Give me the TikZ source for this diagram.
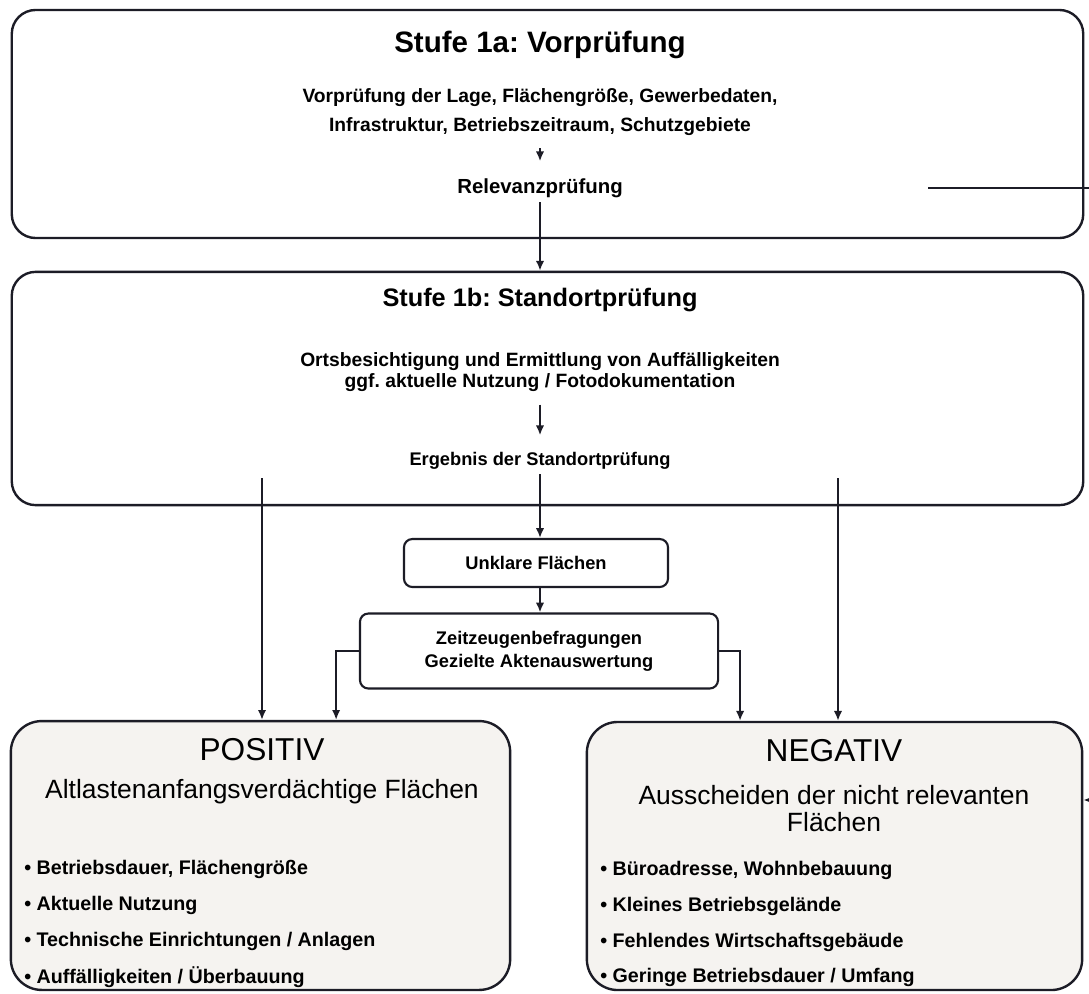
\documentclass[tikz,border=0pt]{standalone}
\usepackage{fontspec}
\setmainfont{Liberation Sans}
\usetikzlibrary{arrows.meta}
\frenchspacing
\definecolor{ink}{HTML}{1C1C26}
\definecolor{paper}{HTML}{F5F3F0}
\tikzset{
  stagebox/.style={draw=ink, line width=1.7pt, rounded corners=17pt, inner sep=0pt},
  smallbox/.style={draw=ink, line width=1.5pt, rounded corners=6pt, align=center, inner sep=0pt, font=\fontsize{13}{16.4}\selectfont\bfseries},
  resultbox/.style={draw=ink, fill=paper, line width=1.7pt, rounded corners=22pt, inner sep=0pt},
  stagetitle/.style={font=\fontsize{#1}{#1}\selectfont\bfseries, inner sep=2pt},
  bodytext/.style={font=\fontsize{13.7}{#1}\selectfont\bfseries, align=center, inner sep=3pt},
  headline/.style={font=\fontsize{22.5}{26}\selectfont, inner sep=2pt},
  subline/.style={font=\fontsize{18.8}{19.5}\selectfont, align=center, inner sep=2pt},
  item/.style={font=\fontsize{14}{16}\selectfont\bfseries, anchor=west, inner sep=0pt},
  arr/.style={draw=ink, line width=1.5pt, -{Latex[length=7pt,width=6pt]}}
}
\begin{document}
\begin{tikzpicture}[x=0.025cm,y=-0.025cm]
\useasboundingbox[fill=white] (0,0) rectangle (1089,993);
\node[stagebox, minimum width=26.78cm, minimum height=5.7cm] (stufeA) at (547.5,124) {};
\node[stagetitle=21] (titleA) at (540,45) {Stufe 1a: Vorprüfung};
\node[bodytext=20] (vorpr) at (540,112) {Vorprüfung der Lage, Flächengröße, Gewerbedaten,\\Infrastruktur, Betriebszeitraum, Schutzgebiete};
\node[bodytext=15, font=\fontsize{14.5}{15}\selectfont\bfseries] (relev) at (540,188) {Relevanzprüfung};
\coordinate (relout) at (928,188);
\node[stagebox, minimum width=26.78cm, minimum height=5.83cm] (stufeB) at (547.5,388.5) {};
\node[stagetitle=18] (titleB) at (540,300) {Stufe 1b: Standortprüfung};
\node[bodytext=15] (orts) at (540,372) {Ortsbesichtigung und Ermittlung von Auffälligkeiten\\ggf. aktuelle Nutzung / Fotodokumentation};
\node[bodytext=15, font=\fontsize{13}{15}\selectfont\bfseries] (ergeb) at (540,461) {Ergebnis der Standortprüfung};
\coordinate (posout) at (262,478);
\coordinate (negout) at (838,478);
\node[smallbox, minimum width=6.6cm, minimum height=1.2cm] (unklar) at (536,563) {Unklare Flächen};
\node[smallbox, minimum width=8.95cm, minimum height=1.875cm] (zeit) at (539,651) {Zeitzeugenbefragungen\\Gezielte Aktenauswertung};
\node[resultbox, minimum width=12.48cm, minimum height=6.72cm] (positiv) at (260.5,855.5) {};
\node[headline] (posHead) at (262,750) {POSITIV};
\node[subline] (posSub) at (262,792) {Altlastenanfangsverdächtige Flächen};
\node[item] (posA) at (24,869) {\textbullet\ Betriebsdauer, Flächengröße};
\node[item] (posB) at (24,905) {\textbullet\ Aktuelle Nutzung};
\node[item] (posC) at (24,941) {\textbullet\ Technische Einrichtungen / Anlagen};
\node[item] (posD) at (24,977) {\textbullet\ Auffälligkeiten / Überbauung};
\node[resultbox, minimum width=12.38cm, minimum height=6.7cm] (negativ) at (834.5,856) {};
\node[headline] (negHead) at (834,751) {NEGATIV};
\node[subline] (negSub) at (834,808.5) {Ausscheiden der nicht relevanten\\Flächen};
\node[item] (negA) at (600,870) {\textbullet\ Büroadresse, Wohnbebauung};
\node[item] (negB) at (600,906) {\textbullet\ Kleines Betriebsgelände};
\node[item] (negC) at (600,942) {\textbullet\ Fehlendes Wirtschaftsgebäude};
\node[item] (negD) at (600,977) {\textbullet\ Geringe Betriebsdauer / Umfang};
\draw[arr, shorten <=6pt, shorten >=9pt] (vorpr) -- (relev);
\draw[arr] (relev.south) -- (relev.south |- stufeB.north);
\draw[arr, shorten <=6pt, shorten >=9pt] (orts) -- (ergeb);
\draw[arr] (ergeb.south) -- (ergeb.south |- unklar.north);
\draw[arr] (unklar.south -| ergeb.south) -- (ergeb.south |- zeit.north);
\draw[arr] (posout) -- (posout |- positiv.north);
\draw[arr] (negout) -- (negout |- negativ.north);
\draw[arr] (zeit.west) -| ([xshift=1.89cm]positiv.north);
\draw[arr] (zeit.east) -| ([xshift=-2.36cm]negativ.north);
\draw[arr] (relout) -- ++(220,0) |- ([yshift=1.4cm]negativ.east);
\end{tikzpicture}
\end{document}
